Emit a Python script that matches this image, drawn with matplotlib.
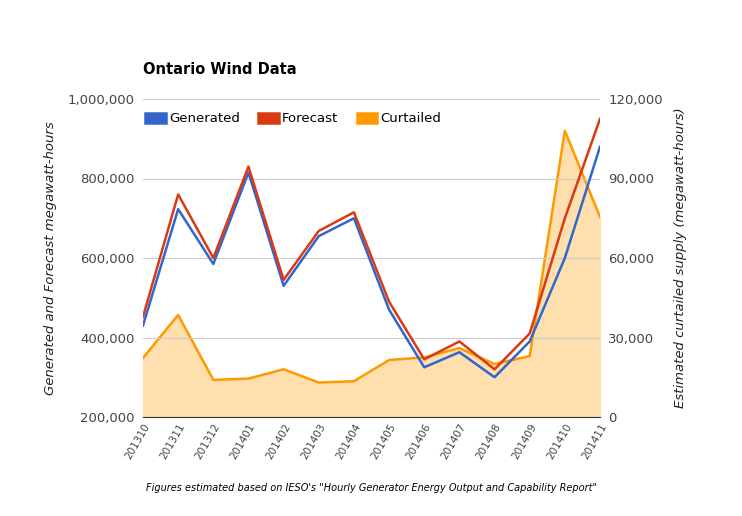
import matplotlib.pyplot as plt
from matplotlib.ticker import FuncFormatter

months = ["201310", "201311", "201312", "201401", "201402", "201403", "201404",
          "201405", "201406", "201407", "201408", "201409", "201410", "201411"]
generated = [430000, 723000, 585000, 815000, 530000, 655000, 700000,
             470000, 325000, 363000, 300000, 390000, 600000, 880000]
forecast = [452000, 760000, 600000, 830000, 545000, 668000, 715000,
            490000, 345000, 390000, 320000, 410000, 700000, 950000]
curtailed = [22300, 38500, 14000, 14500, 18000, 13000, 13500,
             21500, 22500, 26000, 20000, 23000, 108000, 75500]

fig = plt.figure(figsize=(7.42, 5.16), dpi=100)
ax = fig.add_axes([143/742, 1-417/516, 457/742, 318/516])
ax2 = ax.twinx()
x = list(range(len(months)))

# curtailed on right axis, drawn behind
ax2.fill_between(x, curtailed, 0, color="#ffdfae", zorder=1)
ax2.plot(x, curtailed, color="#ff9900", lw=1.8, zorder=2)
ax2.set_ylim(0, 120000)
ax2.set_yticks([0, 30000, 60000, 90000, 120000])
ax2.yaxis.set_major_formatter(FuncFormatter(lambda v, p: f"{int(v):,}"))
ax2.set_ylabel("Estimated curtailed supply (megawatt-hours)", style="italic", color="#222222",
               fontsize=9.5, labelpad=8)

ax.set_zorder(ax2.get_zorder() + 1)
ax.patch.set_visible(False)
ax.plot(x, generated, color="#3366cc", lw=1.8, label="Generated")
ax.plot(x, forecast, color="#dc3912", lw=1.8, label="Forecast")
ax.plot([], [], color="#ff9900", lw=1.8, label="Curtailed")
ax.set_ylim(200000, 1000000)
ax.set_yticks([200000, 400000, 600000, 800000, 1000000])
ax.yaxis.set_major_formatter(FuncFormatter(lambda v, p: f"{int(v):,}"))
ax.set_ylabel("Generated and Forecast megawatt-hours", style="italic", color="#222222",
              fontsize=9.5, labelpad=8)
ax.set_xlim(0, len(months) - 1)
ax.set_xticks(x)
ax.set_xticklabels(months, rotation=60, ha="right", fontsize=7.5, rotation_mode="anchor")
for a in (ax, ax2):
    a.tick_params(length=0, colors="#444444")
    for s in a.spines.values():
        s.set_visible(False)
ax2.grid(False)
ax.grid(axis="y", color="#cccccc", lw=0.8)
ax.spines["bottom"].set_visible(True)
ax.spines["bottom"].set_color("#333333")
ax.tick_params(axis="y", labelsize=9.5, pad=6)
ax2.tick_params(axis="y", labelsize=9.5, pad=6)

leg = ax.legend(loc="upper left", ncol=3, frameon=False, fontsize=9.5,
                bbox_to_anchor=(-0.01, 0.995), handlelength=0.8, handletextpad=0.6,
                columnspacing=1.8)
for h in leg.get_lines():
    h.set_linewidth(9)

fig.text(143/742, 1-70/516, "Ontario Wind Data", fontsize=10.5, fontweight="bold", va="center")
fig.text(372/742, 1-488/516,
         "Figures estimated based on IESO's \"Hourly Generator Energy Output and Capability Report\"",
         fontsize=7, style="italic", ha="center", va="center")
fig.savefig("out.png", dpi=100)
